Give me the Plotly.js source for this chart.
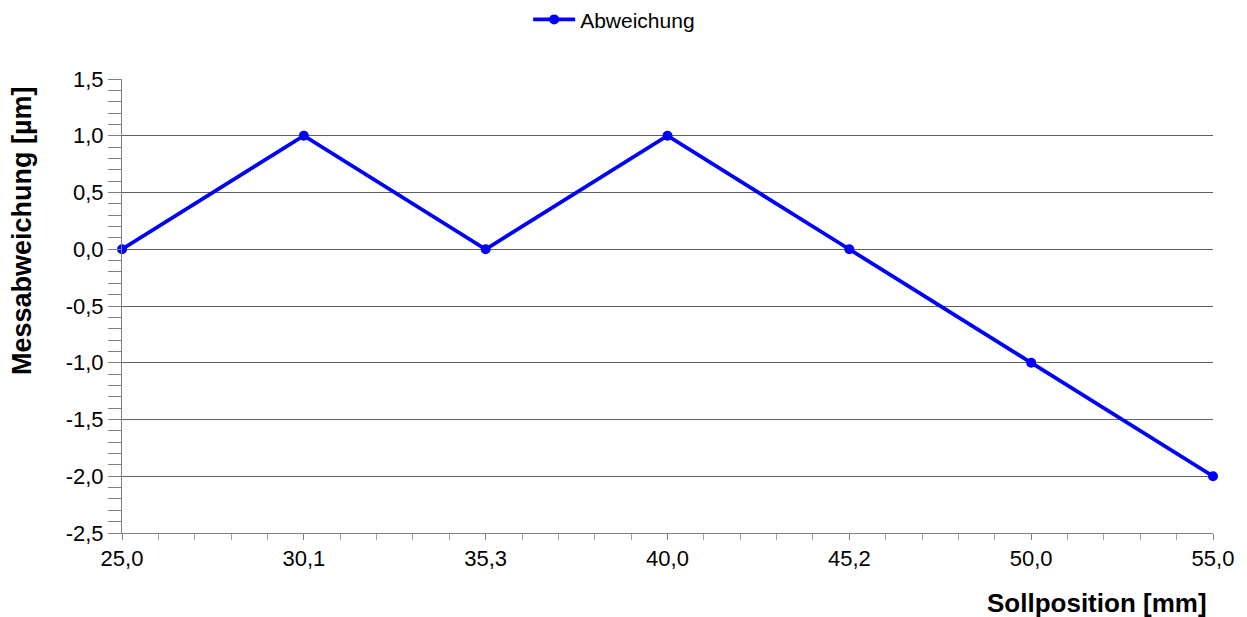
<!DOCTYPE html>
<html><head><meta charset="utf-8">
<script src="https://cdn.plot.ly/plotly-3.0.1.min.js"></script>
<style>html,body{margin:0;padding:0;background:#fff}#c{width:1247px;height:617px}</style>
</head><body><div id="c"></div>
<script>
const categories = ["25,0","30,1","35,3","40,0","45,2","50,0","55,0"];
const abweichung = [0.0, 1.0, 0.0, 1.0, 0.0, -1.0, -2.0];
const yTickVals = [-2.5, -2.0, -1.5, -1.0, -0.5, 0.0, 0.5, 1.0, 1.5];
const yTickText = ["-2,5", "-2,0", "-1,5", "-1,0", "-0,5", "0,0", "0,5", "1,0", "1,5"];
const seriesName = "Abweichung";
const xTitle = "Sollposition [mm]";
const yTitle = "Messabweichung [µm]";

const xIdx = categories.map((_, i) => i);
const font = "Liberation Sans, Arial, sans-serif";

const trace = {
  x: xIdx, y: abweichung, name: seriesName, type: "scatter", mode: "lines+markers",
  line: {color: "#0000ff", width: 3.8}, marker: {color: "#0000ff", size: 10},
  cliponaxis: false, showlegend: true
};

const layout = {
  width: 1247, height: 617,
  margin: {l: 122, r: 34, t: 79, b: 84, autoexpand: false},
  paper_bgcolor: "#fff", plot_bgcolor: "#fff",
  font: {family: font, size: 22, color: "#000"},
  showlegend: true,
  legend: {orientation: "h", xref: "container", yref: "container", x: 0.4925, xanchor: "center",
    y: 0.968, yanchor: "middle", itemwidth: 42, font: {family: font, size: 21, color: "#000"}},
  xaxis: {
    range: [0, 6], tickvals: xIdx, ticktext: categories, showgrid: false, zeroline: false,
    showline: true, linecolor: "#808080", linewidth: 1,
    ticks: "outside", ticklen: 6, tickcolor: "#808080",
    minor: {dtick: 0.2, tick0: 0, ticks: "outside", ticklen: 6, tickcolor: "#a0a0a0", showgrid: false},
    tickfont: {size: 22}
  },
  yaxis: {
    range: [-2.5, 1.5], tickvals: yTickVals, ticktext: yTickText, showgrid: true, gridcolor: "#606060", gridwidth: 1,
    zeroline: false, showline: true, linecolor: "#808080", linewidth: 1,
    ticks: "outside", ticklen: 13, tickcolor: "#808080",
    minor: {dtick: 0.1, tick0: 0, ticks: "outside", ticklen: 13, tickcolor: "#808080", showgrid: false},
    tickfont: {size: 22}
  },
  annotations: [
    {text: "<b>" + xTitle + "</b>", xref: "paper", yref: "paper", x: 1, xanchor: "right", y: -0.155, yanchor: "middle",
      showarrow: false, xshift: -4, font: {family: font, size: 26, color: "#000"}},
    {text: "<b>" + yTitle + "</b>", xref: "paper", yref: "paper", x: 0, xshift: -100, xanchor: "center",
      y: 0.665, yanchor: "middle", textangle: -90, showarrow: false, font: {family: font, size: 27, color: "#000"}}
  ]
};

Plotly.newPlot("c", [trace], layout, {displayModeBar: false, staticPlot: true});
</script>
</body></html>
